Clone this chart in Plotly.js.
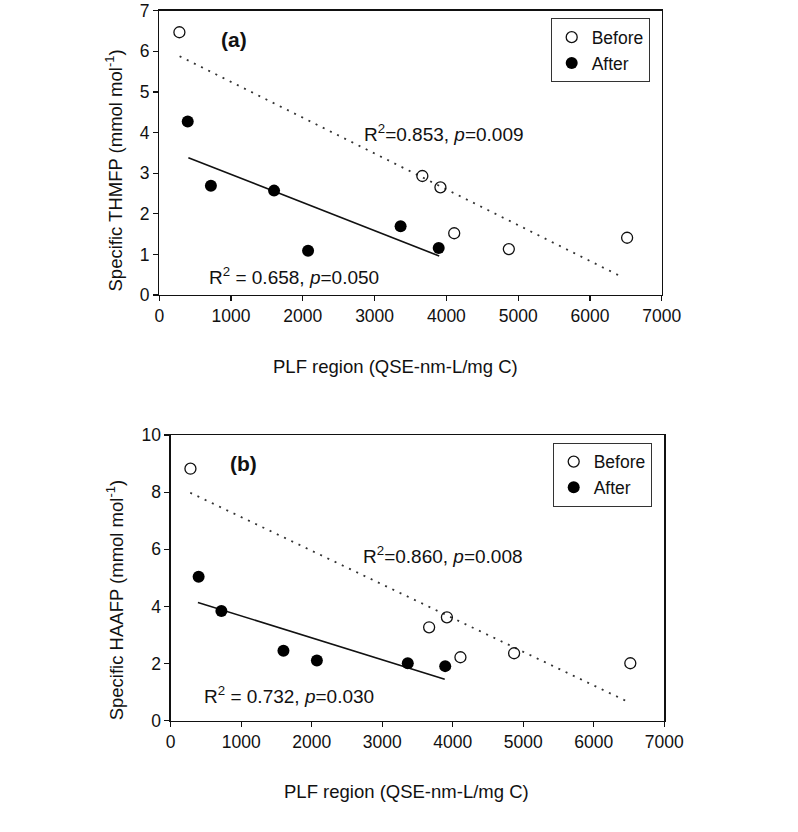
<!DOCTYPE html>
<html>
<head>
<meta charset="utf-8">
<script src="https://cdn.plot.ly/plotly-3.0.1.min.js"></script>
<style>html,body{margin:0;padding:0;background:#fff;}#chart{width:798px;height:832px;}</style>
</head>
<body>
<div id="chart"></div>
<script>
// PLF region (QSE-nm-L/mg C) of the samples
const plfBefore = [280, 3665, 3917, 4109, 4870, 6518];
const plfAfter = [396, 719, 1599, 2073, 3362, 3893];
// (a) Specific THMFP (mmol mol-1)
const thmfpBefore = [6.47, 2.93, 2.65, 1.52, 1.13, 1.41];
const thmfpAfter = [4.27, 2.69, 2.57, 1.09, 1.69, 1.16];
// (b) Specific HAAFP (mmol mol-1)
const haafpBefore = [8.82, 3.27, 3.62, 2.22, 2.36, 2.01];
const haafpAfter = [5.04, 3.84, 2.45, 2.11, 2.01, 1.91];
// regression line end points
const fitBeforeAX = [283, 6440], fitBeforeAY = [5.88, 0.45];
const fitAfterAX = [405, 3900], fitAfterAY = [3.38, 0.96];
const fitBeforeBX = [277, 6511], fitBeforeBY = [7.98, 0.63];
const fitAfterBX = [386, 3886], fitAfterBY = [4.14, 1.45];
const xTicks = [0, 1000, 2000, 3000, 4000, 5000, 6000, 7000];
const labels = {
  a: '(a)', b: '(b)',
  statBeforeA: 'R<sup>2</sup>=0.853, <i>p</i>=0.009',
  statAfterA: 'R<sup>2</sup> = 0.658, <i>p</i>=0.050',
  statBeforeB: 'R<sup>2</sup>=0.860, <i>p</i>=0.008',
  statAfterB: 'R<sup>2</sup> = 0.732, <i>p</i>=0.030',
  yA: 'Specific THMFP (mmol mol<sup>-1</sup>)',
  yB: 'Specific HAAFP (mmol mol<sup>-1</sup>)',
  x: 'PLF region (QSE-nm-L/mg C)'
};

const W = 798, H = 832;
const FONT = 'Arial, "Liberation Sans", sans-serif';
const TXT = '#111';
const FS = 19;      // statistics text
const TITLE = 18.5; // axis titles
const TFS = 17.5;   // tick labels

const openMarker = {symbol: 'circle-open', size: 11, color: '#111', line: {width: 1.3, color: '#111'}};
const fillMarker = {symbol: 'circle', size: 12, color: '#000'};

const traces = [
  {x: fitBeforeAX, y: fitBeforeAY, mode: 'lines', line: {color: '#333', width: 1.8, dash: '2px,6px'}, xaxis: 'x', yaxis: 'y', showlegend: false, hoverinfo: 'skip'},
  {x: fitAfterAX, y: fitAfterAY, mode: 'lines', line: {color: '#111', width: 1.6}, xaxis: 'x', yaxis: 'y', showlegend: false, hoverinfo: 'skip'},
  {x: plfBefore, y: thmfpBefore, mode: 'markers', name: 'Before', marker: openMarker, xaxis: 'x', yaxis: 'y', legend: 'legend'},
  {x: plfAfter, y: thmfpAfter, mode: 'markers', name: 'After', marker: fillMarker, xaxis: 'x', yaxis: 'y', legend: 'legend'},
  {x: fitBeforeBX, y: fitBeforeBY, mode: 'lines', line: {color: '#333', width: 1.8, dash: '2px,6px'}, xaxis: 'x2', yaxis: 'y2', showlegend: false, hoverinfo: 'skip'},
  {x: fitAfterBX, y: fitAfterBY, mode: 'lines', line: {color: '#111', width: 1.6}, xaxis: 'x2', yaxis: 'y2', showlegend: false, hoverinfo: 'skip'},
  {x: plfBefore, y: haafpBefore, mode: 'markers', name: 'Before', marker: openMarker, xaxis: 'x2', yaxis: 'y2', legend: 'legend2'},
  {x: plfAfter, y: haafpAfter, mode: 'markers', name: 'After', marker: fillMarker, xaxis: 'x2', yaxis: 'y2', legend: 'legend2'}
];

function axisBase(extra) {
  return Object.assign({
    showgrid: false, zeroline: false, showline: true, mirror: true,
    linecolor: '#111', linewidth: 1.3, ticks: 'outside', ticklen: 5, tickwidth: 1.2, tickcolor: '#111',
    tickfont: {family: FONT, size: TFS, color: TXT}, fixedrange: true
  }, extra);
}

const legendBase = {
  bgcolor: '#fff', bordercolor: '#333', borderwidth: 1,
  font: {family: FONT, size: 17.5, color: TXT}, xanchor: 'left', yanchor: 'top',
  itemwidth: 30, tracegroupgap: 0
};

const ann = (x, y, xref, yref, text, size, extra) => Object.assign({
  x: x, y: y, xref: xref, yref: yref, text: text, showarrow: false,
  xanchor: 'center', yanchor: 'middle',
  font: {family: FONT, size: size, color: TXT}
}, extra || {});

const layout = {
  width: W, height: H,
  margin: {l: 0, r: 0, t: 0, b: 0},
  paper_bgcolor: '#fff', plot_bgcolor: '#fff',
  font: {family: FONT, size: FS, color: TXT},
  xaxis: axisBase({domain: [159.3 / W, 661.7 / W], range: [0, 7000], tickvals: xTicks, anchor: 'y'}),
  yaxis: axisBase({domain: [1 - 295 / H, 1 - 10.7 / H], range: [0, 7], dtick: 1, anchor: 'x'}),
  xaxis2: axisBase({domain: [170.7 / W, 664.3 / W], range: [0, 7000], tickvals: xTicks, anchor: 'y2'}),
  yaxis2: axisBase({domain: [1 - 720.7 / H, 1 - 435 / H], range: [0, 10], dtick: 2, anchor: 'x2'}),
  legend: Object.assign({x: 550.7 / W, y: 1 - 18.3 / H}, legendBase),
  legend2: Object.assign({x: 552.7 / W, y: 1 - 442.7 / H}, legendBase),
  annotations: [
    ann(1040, 6.30, 'x', 'y', '<b>' + labels.a + '</b>', 21),
    ann(3967, 3.99, 'x', 'y', labels.statBeforeA, FS),
    ann(1881, 0.47, 'x', 'y', labels.statAfterA, FS),
    ann(1038, 9.01, 'x2', 'y2', '<b>' + labels.b + '</b>', 21),
    ann(3867, 5.80, 'x2', 'y2', labels.statBeforeB, FS),
    ann(1682, 0.90, 'x2', 'y2', labels.statAfterB, FS),
    ann(114.5 / W, 1 - 171 / H, 'paper', 'paper', labels.yA, TITLE, {textangle: -90}),
    ann(115.3 / W, 1 - 600 / H, 'paper', 'paper', labels.yB, TITLE, {textangle: -90}),
    ann(395 / W, 1 - 366 / H, 'paper', 'paper', labels.x, TITLE),
    ann(406.5 / W, 1 - 791.7 / H, 'paper', 'paper', labels.x, TITLE)
  ]
};

Plotly.newPlot('chart', traces, layout, {staticPlot: true, displayModeBar: false});
</script>
</body>
</html>
